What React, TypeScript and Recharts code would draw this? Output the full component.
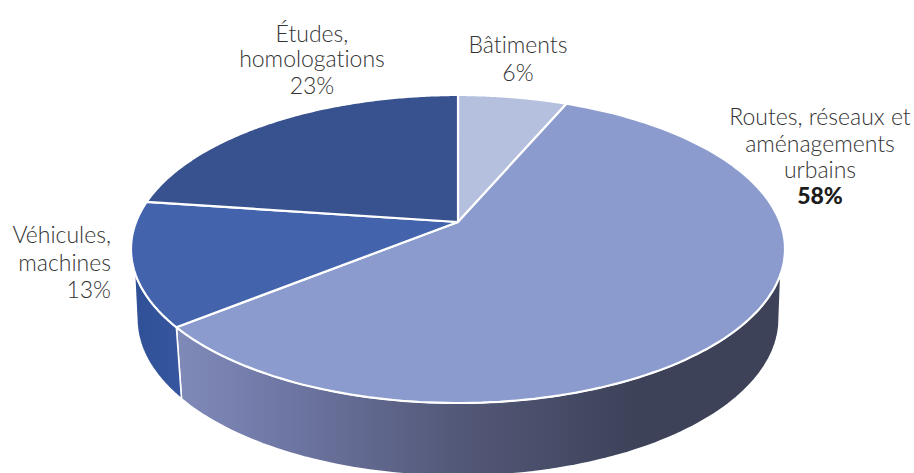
import { Pie, PieChart } from "recharts";

const categories = ["Bâtiments", "Routes, réseaux et aménagements urbains", "Véhicules, machines", "Études, homologations"];
const shares = [6.4, 57.8, 13, 22.8];
const shareLabels = ["6%", "58%", "13%", "23%"];
const labelLines = [["Bâtiments"], ["Routes, réseaux et", "aménagements", "urbains"], ["Véhicules,", "machines"], ["Études,", "homologations"]];

const topColors = ["#b5c0df", "#8b9bcd", "#4364ac", "#38518f"];
const wallFills = ["#b5c0df", "url(#wallRoutes)", "url(#wallVehicules)", "#38518f"];

const data = categories.map((name, i) => ({ name, value: shares[i], fill: topColors[i], wall: wallFills[i] }));

// text anchor, x and the baseline of each line for every label
const labelSpots = [
  { anchor: "middle", x: 518, ys: [53, 81] },
  { anchor: "middle", x: 820, ys: [125, 152, 178, 204] },
  { anchor: "end", x: 111, ys: [243, 271, 298] },
  { anchor: "middle", x: 312, ys: [42, 67, 94] },
];

const WIDTH = 914;
const HEIGHT = 473;
const RY = 154;
const RX_RATIO = 327 / 154;
const APEX_SHIFT = 27 / 154; // slices meet above the ellipse centre (perspective)
const DEPTH = 70;

// tilted disc: pie angle -> point on the top ellipse
function project(p: any, deg: number) {
  const a = (deg * Math.PI) / 180;
  const r = p.outerRadius;
  const rx = r * RX_RATIO;
  const wx = Math.cos(a);
  const wy = Math.sin(a);
  const d = 1 + APEX_SHIFT * wy;
  return {
    x: p.cx + (rx * Math.sqrt(1 - APEX_SHIFT * APEX_SHIFT) * wx) / d,
    y: p.cy - (r * wy + r * APEX_SHIFT) / d,
  };
}

function arcPoints(p: any) {
  const pts = [];
  const steps = 160;
  for (let i = 0; i <= steps; i++) {
    pts.push(project(p, p.startAngle + ((p.endAngle - p.startAngle) * i) / steps));
  }
  return pts;
}

const toPath = (pts: { x: number; y: number }[]) => pts.map((q, i) => `${i ? "L" : "M"}${q.x.toFixed(1)} ${q.y.toFixed(1)}`).join(" ");

function TopSlice(p: any) {
  const apex = { x: p.cx, y: p.cy - p.outerRadius * APEX_SHIFT };
  return <path d={toPath([apex, ...arcPoints(p)]) + " Z"} fill={p.fill} stroke="#ffffff" strokeWidth={2.2} strokeLinejoin="round" />;
}

function WallSlice(p: any) {
  const arc = arcPoints(p);
  const top = arc.filter((q) => q.y >= p.cy + 22);
  const bottom = arc
    .filter((q) => q.y >= p.cy + 4)
    .map((q) => ({ x: p.cx + (q.x - p.cx) * 0.982, y: p.cy + (q.y - p.cy) * 1.02 + DEPTH }));
  if (!top.length) return <g />;
  const wall = p.payload?.wall ?? p.wall;
  return (
    <g>
      <defs>
        <linearGradient id="wallRoutes" gradientUnits="userSpaceOnUse" x1={177} y1={0} x2={640} y2={0}>
          <stop offset="0" stopColor="#808ab9" />
          <stop offset="0.25" stopColor="#6d75a2" />
          <stop offset="0.6" stopColor="#535978" />
          <stop offset="1" stopColor="#3d4259" />
        </linearGradient>
        <linearGradient id="wallVehicules" gradientUnits="userSpaceOnUse" x1={131} y1={0} x2={183} y2={0}>
          <stop offset="0" stopColor="#2f5096" />
          <stop offset="1" stopColor="#36579f" />
        </linearGradient>
      </defs>
      <path d={toPath([...top, ...bottom.reverse()]) + " Z"} fill={wall} stroke="#ffffff" strokeWidth={1.6} strokeLinejoin="round" />
    </g>
  );
}

function SliceLabel({ index }: any) {
  const spot = labelSpots[index];
  const lines = labelLines[index];
  return (
    <text
      textAnchor={spot.anchor as any}
      fontFamily="Lato"
      fontSize={23}
      fontWeight={300}
      fill="#333333"
      style={{ fontVariantLigatures: "none" }}
    >
      {lines.map((line, i) => (
        <tspan key={line} x={spot.x} y={spot.ys[i]}>
          {line}
        </tspan>
      ))}
      <tspan x={spot.x} y={spot.ys[lines.length]} fontWeight={index === 1 ? 900 : 300} fill={index === 1 ? "#1c1c1c" : "#333333"}>
        {shareLabels[index]}
      </tspan>
    </text>
  );
}

export default function App() {
  return (
    <div style={{ position: "absolute", left: 0, top: 0, width: WIDTH, height: HEIGHT, overflow: "hidden", background: "#ffffff" }}>
      <PieChart width={WIDTH} height={HEIGHT} margin={{ top: 0, right: 0, bottom: 0, left: 0 }}>
        <Pie
          data={data}
          dataKey="value"
          nameKey="name"
          cx={458}
          cy={249}
          outerRadius={RY}
          startAngle={90}
          endAngle={-270}
          stroke="none"
          shape={WallSlice}
          isAnimationActive={false}
        />
        <Pie
          data={data}
          dataKey="value"
          nameKey="name"
          cx={458}
          cy={249}
          outerRadius={RY}
          startAngle={90}
          endAngle={-270}
          shape={TopSlice}
          label={SliceLabel}
          labelLine={false}
          isAnimationActive={false}
        />
      </PieChart>
    </div>
  );
}
